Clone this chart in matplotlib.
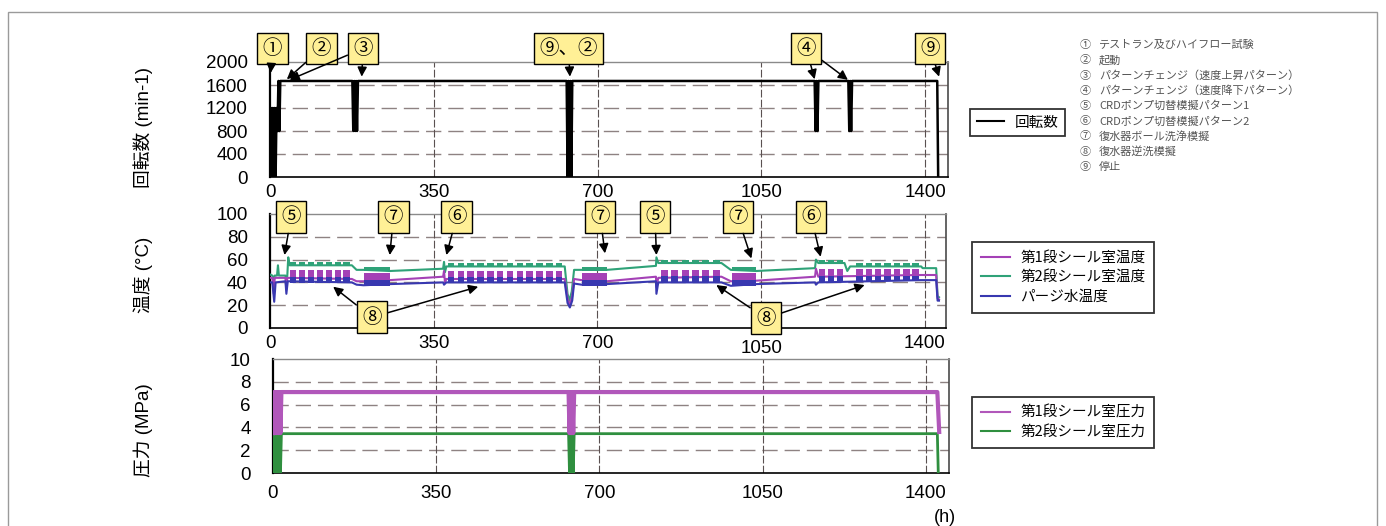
import matplotlib
matplotlib.use('Agg')
import matplotlib.pyplot as plt
from matplotlib.patches import Rectangle
import matplotlib.transforms as mtransforms

plt.rcParams['font.family'] = ['Liberation Sans', 'Noto Sans CJK JP', 'DejaVu Sans']

W, H, DPI = 1386, 526, 100

# ------------------------------------------------------------------ data
time_ticks = [0, 350, 700, 1050, 1400]
rpm_ticks = [0, 400, 800, 1200, 1600, 2000]
temp_ticks = [0, 20, 40, 60, 80, 100]
pres_ticks = [0, 2, 4, 6, 8, 10]

# rotation speed (min-1)
rpm_t = [0, 2, 4, 6, 8, 10, 12, 14, 16, 18, 20, 22,
         176, 178, 180, 182, 184, 186, 188,
         634, 636, 638, 640, 642, 644, 646,
         1164, 1166, 1168, 1170, 1172,
         1236, 1238, 1240, 1242, 1244,
         1426, 1428]
rpm_v = [0, 1200, 0, 1200, 0, 1200, 0, 1200, 800, 1670, 800, 1670,
         1670, 800, 1670, 800, 1670, 800, 1670,
         1670, 0, 1670, 0, 1670, 0, 1670,
         1670, 800, 1670, 800, 1670,
         1670, 800, 1670, 800, 1670,
         1670, 0]

# 2nd stage seal chamber temperature (green) baseline
seal2_t = [0, 5, 8, 10, 15, 17, 19, 33, 35, 37, 39, 42, 175, 185, 200, 256, 370, 372, 374, 377,
           630, 636, 640, 645, 650, 666, 720, 825, 826, 830, 965, 985, 1039, 1165, 1167, 1172,
           1228, 1234, 1240, 1392, 1395, 1424, 1427, 1430]
seal2_v = [47, 46, 40, 46, 46, 55, 46, 46, 40, 46, 62, 55, 55, 51, 51, 50, 52, 58, 49, 54,
           54, 30, 24, 32, 51, 51, 51, 54.5, 62, 57, 57, 51, 50, 52.5, 60, 57,
           57, 50, 54, 54, 52.5, 52.5, 28, 27]
# 1st stage seal chamber temperature (purple) baseline
seal1_t = [0, 5, 8, 10, 33, 35, 37, 175, 185, 200, 256, 370, 372, 374, 377,
           630, 636, 641, 646, 650, 666, 720, 825, 826, 830, 965, 985, 1039, 1165, 1167, 1172,
           1392, 1424, 1427, 1430]
seal1_v = [44, 44, 30, 44, 44, 34, 44, 43, 41, 41, 42, 45, 50, 40, 43,
           43, 26, 20, 28, 43, 42, 41, 45, 36, 44, 45, 41, 41.5, 45, 52, 45,
           46.5, 46.5, 26, 25]
# purge water temperature (blue) baseline
purge_t = [0, 5, 9, 12, 33, 35, 38, 175, 185, 200, 256, 370, 372, 377,
           630, 636, 641, 646, 650, 666, 720, 825, 826, 830, 965, 985, 1039, 1165, 1167, 1172,
           1392, 1424, 1427, 1430]
purge_v = [40, 40, 23, 40, 41, 30, 41, 40, 38, 37.5, 38.5, 40, 38, 40,
           40, 22, 18, 24, 39, 38, 38.5, 41, 30, 40, 40, 37, 38.5, 40, 38, 40,
           42, 42, 24, 24]

# backwash periods (square patterns), start/end hours
sq_A = [(43, 56), (62, 75), (81, 94), (100, 113), (119, 132), (138, 151), (157, 170)]
sq_B = [(380, 394), (401, 415), (422, 436), (443, 457), (464, 478), (485, 499),
        (506, 520), (527, 541), (548, 562), (569, 583), (590, 604), (611, 625)]
sq_C = [(836, 851), (858, 873), (880, 895), (902, 917), (924, 939), (946, 961)]
sq_D1 = [(1174, 1187), (1193, 1206), (1212, 1225)]
sq_D2 = [(1253, 1267), (1273, 1287), (1293, 1307), (1313, 1327), (1333, 1347), (1353, 1367), (1373, 1387)]
square_groups = [sq_A, sq_B, sq_C, sq_D1, sq_D2]
seal2_sq_lo = [55, 54, 56.5, 57, 54]
seal2_sq_hi = [58, 57, 59.5, 60, 57]
seal1_sq_lo = [43, 43, 44, 45, 45]
seal1_sq_hi = [51, 50, 51, 52, 51.5]
purge_sq_lo = [39.5, 40, 40, 40, 41]
purge_sq_hi = [45, 45, 45.5, 45.5, 46]

# ball-cleaning periods
ball_blocks = [(202, 256), (666, 720), (988, 1039)]
seal2_ball = (50, 53.5)
seal1_ball = (40, 48)
purge_ball = (37, 42.5)

# pressures (MPa)
p1_t = [0, 2, 4, 6, 8, 10, 12, 14, 16, 18, 634, 636, 638, 640, 642, 644, 646, 1425, 1429]
p1_v = [3.5, 7.1, 3.5, 7.1, 3.5, 7.1, 3.5, 7.1, 3.5, 7.1, 7.1, 3.5, 7.1, 3.5, 7.1, 3.5, 7.1, 7.1, 3.6]
p2_t = [0, 2, 4, 6, 8, 10, 12, 14, 16, 18, 634, 636, 638, 640, 642, 644, 646, 1425, 1427]
p2_v = [0, 3.45, 0, 3.45, 0, 3.45, 0, 3.45, 0, 3.45, 3.45, 0, 3.45, 0, 3.45, 0, 3.45, 3.45, 0]

notes_num = ['①', '②', '③', '④', '⑤', '⑥', '⑦', '⑧', '⑨']
notes_txt = ['テストラン及びハイフロー試験', '起動', 'パターンチェンジ（速度上昇パターン）',
             'パターンチェンジ（速度降下パターン）', 'CRDポンプ切替模擬パターン1',
             'CRDポンプ切替模擬パターン2', '復水器ボール洗浄模擬', '復水器逆洗模擬', '停止']

# ------------------------------------------------------------------ styles
C_S1 = '#a441b6'
C_S2 = '#2fa278'
C_PU = '#3838b0'
C_P1 = '#b157ba'
C_P2 = '#2f8f3f'
C_BOX = '#fff096'
GRID_C = '#8e8282'

fig = plt.figure(figsize=(W / DPI, H / DPI), dpi=DPI)
fig.patch.set_facecolor('white')
fig.patches.append(Rectangle((8 / W, -0.05), (1377 - 8) / W, 1.05 - 12 / H,
                             transform=fig.transFigure, fill=False, edgecolor='#9a9a9a', lw=1.0))


def px_axes(left, top, right, bottom):
    return fig.add_axes([left / W, 1 - bottom / H, (right - left) / W, (bottom - top) / H])


def style(ax, ylim, yticks, xmax, xpad):
    ax.set_xlim(0, xmax)
    ax.set_ylim(*ylim)
    ax.set_xticks(time_ticks)
    ax.set_yticks(yticks)
    ax.tick_params(axis='both', length=0, labelsize=13.5)
    ax.tick_params(axis='y', pad=16)
    ax.tick_params(axis='x', pad=xpad)
    for y in yticks[1:-1]:
        ax.axhline(y, color=GRID_C, lw=1.0, ls=(0, (11, 5)), zorder=0.5)
    for x in time_ticks[1:]:
        ax.axvline(x, color='#5a5050', lw=0.8, ls=(0, (7, 2)), zorder=0.5)
    ax.spines['left'].set_color('black'); ax.spines['left'].set_linewidth(1.6)
    ax.spines['bottom'].set_color('black'); ax.spines['bottom'].set_linewidth(1.2)
    ax.spines['top'].set_color('#8a8a8a'); ax.spines['top'].set_linewidth(1.0)
    ax.spines['right'].set_color('#4a4a4a'); ax.spines['right'].set_linewidth(1.2)


def callout(ax, label, center, tips, fs=14):
    t = ax.text(center[0], center[1], label, ha='center', va='center', fontsize=fs,
                family=['Noto Sans CJK JP', 'DejaVu Sans'], zorder=20, clip_on=False,
                bbox=dict(boxstyle='square,pad=0.28', facecolor=C_BOX, edgecolor='black', lw=1.0))
    for tip in tips:
        ax.annotate('', xy=tip, xytext=center, annotation_clip=False, zorder=21,
                    arrowprops=dict(arrowstyle='-|>', color='black', lw=1.1, mutation_scale=14,
                                    shrinkA=0, shrinkB=0, patchA=t.get_bbox_patch()))
    return t


# ------------------------------------------------------------------ top: rotation speed
ax1 = px_axes(270, 62, 948, 177)
style(ax1, (0, 2000), rpm_ticks, 1449, 5)
ln_rpm, = ax1.plot(rpm_t, rpm_v, color='black', lw=1.8, label='回転数', zorder=3)
callout(ax1, '①', (5, 2235), [(1.5, 1810)])
callout(ax1, '②', (110, 2235), [(36, 1700)])
callout(ax1, '③', (199, 2235), [(196, 1745), (42, 1690)])
callout(ax1, '⑨、②', (638, 2235), [(641, 1745)])
callout(ax1, '④', (1146, 2235), [(1164, 1700), (1235, 1690)])
callout(ax1, '⑨', (1411, 2235), [(1430, 1745)])

# ------------------------------------------------------------------ middle: temperatures
ax2 = px_axes(270, 214, 946, 328)
style(ax2, (0, 100), temp_ticks, 1445, 5)
ln_s2, = ax2.plot(seal2_t, seal2_v, color=C_S2, lw=1.5, label='第2段シール室温度', zorder=3)
ln_s1, = ax2.plot(seal1_t, seal1_v, color=C_S1, lw=1.5, label='第1段シール室温度', zorder=4)
ln_pu, = ax2.plot(purge_t, purge_v, color=C_PU, lw=1.5, label='パージ水温度', zorder=5)
for grp, lo2, hi2, lo1, hi1, lo0, hi0 in zip(square_groups, seal2_sq_lo, seal2_sq_hi,
                                              seal1_sq_lo, seal1_sq_hi, purge_sq_lo, purge_sq_hi):
    for a, b in grp:
        ax2.fill_between([a, b], [lo2, lo2], [hi2, hi2], color=C_S2, lw=0, zorder=3)
        ax2.fill_between([a, b], [lo1, lo1], [hi1, hi1], color=C_S1, lw=0, zorder=4)
        ax2.fill_between([a, b], [lo0, lo0], [hi0, hi0], color=C_PU, lw=0, zorder=5)
for a, b in ball_blocks:
    ax2.fill_between([a, b], [seal2_ball[0]] * 2, [seal2_ball[1]] * 2, color=C_S2, lw=0, zorder=3)
    ax2.fill_between([a, b], [seal1_ball[0]] * 2, [seal1_ball[1]] * 2, color=C_S1, lw=0, zorder=4)
    ax2.fill_between([a, b], [purge_ball[0]] * 2, [purge_ball[1]] * 2, color=C_PU, lw=0, zorder=5)

callout(ax2, '⑤', (45, 97.4), [(31, 64)])
callout(ax2, '⑦', (264, 97.4), [(256, 64)])
callout(ax2, '⑥', (399, 97.4), [(377, 64)])
callout(ax2, '⑦', (706, 97.4), [(716, 65.5)])
callout(ax2, '⑤', (823, 97.4), [(826, 64)])
callout(ax2, '⑦', (1000, 97.4), [(1029, 61)])
callout(ax2, '⑥', (1157, 97.4), [(1177, 62.5)])
callout(ax2, '⑧', (218, 9.4), [(135, 36.2), (445, 36.2)])
callout(ax2, '⑧', (1060, 8.5), [(954, 37.7), (1271, 37.7)])
# the 1050 label sits a little lower in the middle panel
lbl = ax2.get_xticklabels()[3]
lbl.set_transform(lbl.get_transform() + mtransforms.ScaledTranslation(0, -5 / DPI, fig.dpi_scale_trans))

# ------------------------------------------------------------------ bottom: pressures
ax3 = px_axes(273, 359, 949, 473)
style(ax3, (0, 10), pres_ticks, 1450, 9)
ln_p2, = ax3.plot(p2_t, p2_v, color=C_P2, lw=2.0, label='第2段シール室圧力', zorder=3)
ln_p1, = ax3.plot(p1_t, p1_v, color=C_P1, lw=3.0, label='第1段シール室圧力', zorder=4)
fig.text(945 / W, 1 - 517 / H, '(h)', ha='center', va='center', fontsize=13)

# ------------------------------------------------------------------ axis titles
fig.text(143 / W, 1 - 128 / H, '回転数 (min-1)', rotation=90, ha='center', va='center', fontsize=13.5)
fig.text(143 / W, 1 - 275 / H, '温度 (°C)', rotation=90, ha='center', va='center', fontsize=13.5)
fig.text(143 / W, 1 - 430 / H, '圧力 (MPa)', rotation=90, ha='center', va='center', fontsize=13.5)

# ------------------------------------------------------------------ legends
leg_kw = dict(loc='upper left', bbox_transform=fig.transFigure, borderaxespad=0, fancybox=False,
              edgecolor='#333333', framealpha=1, handletextpad=0.7,
              prop={'family': ['Noto Sans CJK JP'], 'size': 10.5})
lg1 = ax1.legend([ln_rpm], ['回転数'], bbox_to_anchor=(970 / W, 1 - 109 / H), handlelength=1.9,
                 borderpad=0.45, **leg_kw)
lg2 = ax2.legend([ln_s1, ln_s2, ln_pu], ['第1段シール室温度', '第2段シール室温度', 'パージ水温度'],
                 bbox_to_anchor=(972 / W, 1 - 242 / H), handlelength=2.0, labelspacing=0.38,
                 borderpad=0.6, **leg_kw)
lg3 = ax3.legend([ln_p1, ln_p2], ['第1段シール室圧力', '第2段シール室圧力'],
                 bbox_to_anchor=(972 / W, 1 - 397 / H), handlelength=2.0, labelspacing=0.38,
                 borderpad=0.6, **leg_kw)
for lg in (lg1, lg2, lg3):
    lg.get_frame().set_linewidth(1.3)
    for h in lg.legend_handles:
        h.set_linewidth(1.5)

# ------------------------------------------------------------------ notes
for i, (n, t) in enumerate(zip(notes_num, notes_txt)):
    y = 1 - (45 + i * 15.25) / H
    fig.text(1080 / W, y, n, ha='left', va='center', fontsize=8, color='#555555',
             family=['Noto Sans CJK JP'])
    fig.text(1099 / W, y, t, ha='left', va='center', fontsize=8, color='#555555',
             family=['Noto Sans CJK JP'])

fig.savefig('out.png', dpi=DPI)
